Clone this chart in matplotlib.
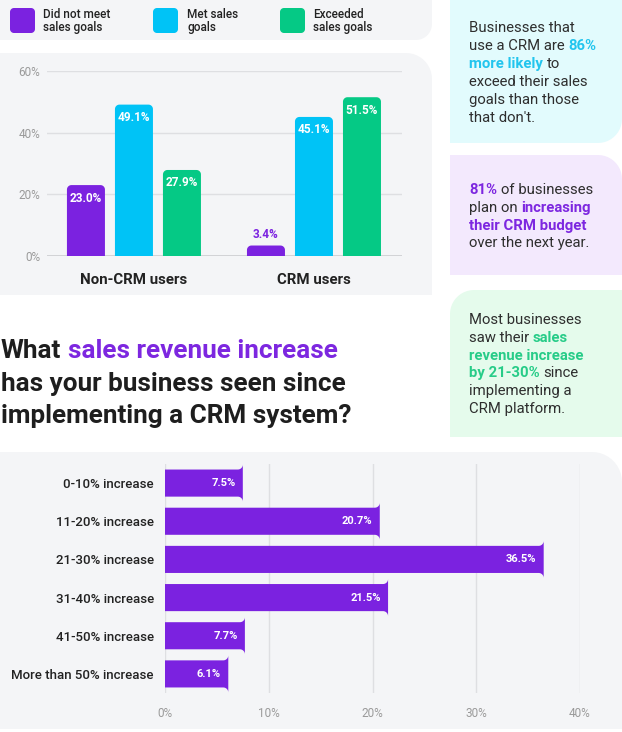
"""CRM sales-goal infographic: grouped bars, callouts and revenue-increase bars."""

import numpy as np
import matplotlib

matplotlib.use('Agg')
import matplotlib.pyplot as plt
from matplotlib.patches import Polygon
from matplotlib.transforms import Affine2D

W, H = 622, 732

# ---- data -------------------------------------------------------------
groups = ['Non-CRM users', 'CRM users']
series_labels = [('Did not meet', 'sales goals'), ('Met sales', 'goals'), ('Exceeded', 'sales goals')]
did_not_meet = [23.0, 3.4]
met_goals = [49.1, 45.1]
exceeded = [27.9, 51.5]
y_ticks_top = [0, 20, 40, 60]

ranges = ['0-10% increase', '11-20% increase', '21-30% increase',
          '31-40% increase', '41-50% increase', 'More than 50% increase']
shares = [7.5, 20.7, 36.5, 21.5, 7.7, 6.1]
x_ticks_bottom = [0, 10, 20, 30, 40]

PURPLE = '#7b22e0'
CYAN = '#00c3f6'
GREEN = '#05c985'
DARK = '#222222'
TEXT = '#2e2e2e'
GRAY_TICK = '#9a9a9a'
PANEL = '#f4f5f7'
GRID = '#dedfe2'

plt.rcParams['font.family'] = ['Roboto', 'DejaVu Sans']

fig = plt.figure(figsize=(W / 100, H / 100), dpi=100)
fig.patch.set_facecolor('white')
# pixel coordinates, y pointing down
trans = Affine2D().scale(1 / W, -1 / H).translate(0, 1) + fig.transFigure
renderer = fig.canvas.get_renderer()


def rounded_pts(x0, y0, x1, y1, radii, n=12):
    """Corner points of a rectangle; radii for (x0,y0),(x1,y0),(x1,y1),(x0,y1)."""
    corners = [(x0, y0, 1, 1), (x1, y0, -1, 1), (x1, y1, -1, -1), (x0, y1, 1, -1)]
    pts = []
    for (cx, cy, sx, sy), r in zip(corners, radii):
        if r <= 0:
            pts.append((cx, cy))
            continue
        ccx, ccy = cx + sx * r, cy + sy * r
        mid = np.arctan2(-sy, -sx)
        for a in np.linspace(mid - np.pi / 4, mid + np.pi / 4, n):
            pts.append((ccx + r * np.cos(a), ccy + r * np.sin(a)))
    return np.array(pts)


def panel(x0, y0, x1, y1, radii, color, z=-5):
    fig.patches.append(Polygon(rounded_pts(x0, y0, x1, y1, radii), closed=True,
                               transform=trans, facecolor=color, edgecolor='none', zorder=z))


def round_bars(ax, bars, radii_fn, r):
    """Replace plain bar rectangles with ones whose outer corners are rounded."""
    inv = ax.transData.inverted()
    for b in bars:
        x, y = b.get_xy()
        (px0, py0), (px1, py1) = ax.transData.transform([(x, y), (x + b.get_width(), y + b.get_height())])
        pts = rounded_pts(px0, py0, px1, py1, radii_fn(r))
        ax.add_patch(Polygon(inv.transform(pts), closed=True, facecolor=b.get_facecolor(),
                             edgecolor='none', zorder=3))
        b.set_visible(False)


def rich_line(x, y, parts, size):
    space = None
    for text, color, weight in parts:
        t = fig.text(x, y, text, transform=trans, fontsize=size, color=color,
                     fontweight=weight, va='center', ha='left')
        if space is None:
            a = fig.text(0, 0, 'a a', fontsize=size)
            b = fig.text(0, 0, 'aa', fontsize=size)
            space = a.get_window_extent(renderer).width - b.get_window_extent(renderer).width
            a.remove()
            b.remove()
        x += t.get_window_extent(renderer).width + space


# ---- background panels -----------------------------------------------
panel(0, 0, 432, 40, (0, 0, 16, 0), PANEL)
panel(0, 53, 432, 295, (0, 26, 0, 0), PANEL)
panel(0, 452, W, 729, (0, 30, 0, 0), PANEL)
panel(450, 0, W, 143, (0, 0, 24, 0), '#e2fbfd')
panel(450, 155, W, 275, (0, 24, 0, 0), '#f3e9fd')
panel(450, 290, W, 437, (24, 0, 0, 0), '#e5fbec')

# ---- legend -------------------------------------------------------------
for (l1, l2), color, sx, tx in zip(series_labels, [PURPLE, CYAN, GREEN], [10, 153, 280], [43, 187, 313]):
    panel(sx, 8, sx + 25, 33, (4, 4, 4, 4), color, z=1)
    fig.text(tx, 14, l1, transform=trans, fontsize=8.5, fontweight='medium', color=DARK, va='center')
    fig.text(tx, 27, l2, transform=trans, fontsize=8.5, fontweight='medium', color=DARK, va='center')

# ---- grouped bar chart ------------------------------------------------
ax1 = fig.add_axes([47 / W, 1 - 256 / H, 355 / W, 185 / H])
ax1.set_facecolor('none')
ax1.set_xlim(-0.483, 1.489)
ax1.set_ylim(0, 60)
xg = np.arange(len(groups))
step, width = 48 / 180, 38 / 180
series = [(did_not_meet, PURPLE), (met_goals, CYAN), (exceeded, GREEN)]
for i, (vals, color) in enumerate(series):
    bars = ax1.bar(xg + (i - 1) * step, vals, width, color=color, zorder=3)
    round_bars(ax1, bars, lambda r: (0, 0, r, r), 4.5)
    for xv, v in zip(xg + (i - 1) * step, vals):
        if v < 8:
            ax1.text(xv, v + 3.6, f'{v:.1f}%', ha='center', va='center', fontsize=8.5,
                     fontweight='bold', color=color, zorder=4)
        else:
            ax1.text(xv, v - 4.2, f'{v:.1f}%', ha='center', va='center', fontsize=8.5,
                     fontweight='bold', color='white', zorder=4)
ax1.set_yticks(y_ticks_top, [f'{t}%' for t in y_ticks_top])
ax1.set_xticks(xg, groups)
ax1.grid(axis='y', color=GRID, lw=1, zorder=0)
ax1.axhline(0, color='#c9cacd', lw=1.2, zorder=1)
ax1.tick_params(axis='y', length=0, pad=5, labelsize=8.5, labelcolor=GRAY_TICK)
ax1.tick_params(axis='x', length=0, pad=12, labelsize=10.8)
for lab in ax1.get_xticklabels():
    lab.set_fontweight('bold')
    lab.set_color(DARK)
for s in ax1.spines.values():
    s.set_visible(False)

# ---- callout boxes ------------------------------------------------------
B = 'bold'
R = 'normal'
box1 = [
    [('Businesses that', TEXT, R)],
    [('use a CRM are', TEXT, R), ('86%', '#22c5ee', B)],
    [('more likely', '#22c5ee', B), ('to', TEXT, R)],
    [('exceed their sales', TEXT, R)],
    [('goals than those', TEXT, R)],
    [("that don't.", TEXT, R)],
]
box2 = [
    [('81%', '#7d27e0', B), ('of businesses', TEXT, R)],
    [('plan on', TEXT, R), ('increasing', '#7d27e0', B)],
    [('their CRM budget', '#7d27e0', B)],
    [('over the next year.', TEXT, R)],
]
box3 = [
    [('Most businesses', TEXT, R)],
    [('saw their', TEXT, R), ('sales', '#27cc88', B)],
    [('revenue increase', '#27cc88', B)],
    [('by 21-30%', '#27cc88', B), ('since', TEXT, R)],
    [('implementing a', TEXT, R)],
    [('CRM platform.', TEXT, R)],
]
for lines, y0 in [(box1, 28.5), (box2, 190), (box3, 320)]:
    for k, parts in enumerate(lines):
        rich_line(469, y0 + k * 17.8, parts, 10.7)

# ---- heading --------------------------------------------------------------
heading = [
    [('What', '#1e1e1e', B), ('sales revenue increase', '#7d27e0', B)],
    [('has your business seen since', '#1e1e1e', B)],
    [('implementing a CRM system?', '#1e1e1e', B)],
]
for k, parts in enumerate(heading):
    rich_line(1, 351 + k * 32.5, parts, 18.8)

# ---- horizontal bar chart -----------------------------------------------
ax2 = fig.add_axes([165 / W, 1 - 693 / H, 415 / W, 229 / H])
ax2.set_facecolor('none')
ax2.set_xlim(0, 40)
ax2.set_ylim(len(ranges) - 0.5, -0.5)
yr = np.arange(len(ranges))
bars = ax2.barh(yr, shares, height=0.71, color=PURPLE, zorder=3)
round_bars(ax2, bars, lambda r: (0, r, r, 0), 5)
for yv, v in zip(yr, shares):
    ax2.text(v - 0.7, yv, f'{v:.1f}%', ha='right', va='center', fontsize=8,
             fontweight='bold', color='white', zorder=4)
ax2.set_yticks(yr, ranges)
ax2.set_xticks(x_ticks_bottom, [f'{t}%' for t in x_ticks_bottom])
ax2.grid(axis='x', color=GRID, lw=1, zorder=0)
ax2.tick_params(axis='y', length=0, pad=8, labelsize=9.5, labelcolor=DARK)
ax2.tick_params(axis='x', length=0, pad=10, labelsize=8.5, labelcolor=GRAY_TICK)
for lab in ax2.get_yticklabels():
    lab.set_fontweight('medium')
for s in ax2.spines.values():
    s.set_visible(False)

fig.savefig('out.png', dpi=100)
